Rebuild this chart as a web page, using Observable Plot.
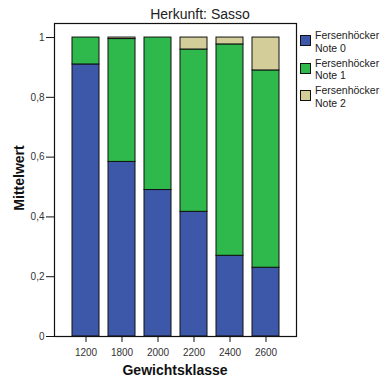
<!DOCTYPE html>
<html>
<head>
<meta charset="utf-8">
<script src="https://cdn.jsdelivr.net/npm/d3@7"></script>
<script src="https://cdn.jsdelivr.net/npm/@observablehq/plot@0.6"></script>
<style>
  html, body { margin: 0; padding: 0; background: #fff; }
  #wrap { position: relative; width: 385px; height: 378px; font-family: "Liberation Sans", Arial, sans-serif; color: #222; }
  #wrap svg { position: absolute; left: 0; top: 0; }
  .title { position: absolute; left: 0; width: 400px; top: 6px; text-align: center; font-size: 14px; }
  .ylab { position: absolute; left: 19px; top: 178px; transform: translate(-50%, -50%) rotate(-90deg); font-size: 14px; font-weight: bold; white-space: nowrap; color: #111; }
  .xlab { position: absolute; left: 175px; top: 362px; transform: translateX(-50%); font-size: 14px; font-weight: bold; white-space: nowrap; color: #111; }
  .legend { position: absolute; left: 300px; top: 29px; font-size: 10.5px; line-height: 12.5px; color: #222; }
  .item { position: relative; height: 27.5px; padding-left: 15px; }
  .sw { position: absolute; left: 0; top: 6px; width: 9px; height: 9px; border: 1px solid #111; }
</style>
</head>
<body>
<div id="wrap"></div>
<script>
const categories = ["1200", "1800", "2000", "2200", "2400", "2600"];
const seriesNames = ["Fersenhöcker Note 0", "Fersenhöcker Note 1", "Fersenhöcker Note 2"];
const note0 = [0.91, 0.584, 0.49, 0.417, 0.27, 0.23];
const note1 = [0.09, 0.411, 0.51, 0.543, 0.707, 0.66];
const note2 = [0.0, 0.005, 0.0, 0.04, 0.023, 0.11];
const colors = ["#3d57a9", "#2fb84b", "#d3ce99"];
const yTicks = [0, 0.2, 0.4, 0.6, 0.8, 1];

const seriesValues = [note0, note1, note2];
const data = [];
seriesValues.forEach((vals, s) => {
  categories.forEach((c, i) => data.push({cat: c, series: seriesNames[s], value: vals[i]}));
});

const fmt = d => d === 0 ? "0" : d === 1 ? "1" : String(d).replace(".", ",");

const chart = Plot.plot({
  width: 385,
  height: 378,
  marginLeft: 54,
  marginRight: 89,
  marginTop: 23,
  marginBottom: 42,
  style: {fontFamily: "Liberation Sans, Arial, sans-serif", fontSize: "10px", color: "#333", background: "transparent"},
  x: {domain: categories, paddingInner: 0.25, paddingOuter: 0.45, label: null},
  y: {domain: [0, 1.047], label: null},
  color: {domain: seriesNames, range: colors},
  marks: [
    Plot.barY(data, Plot.stackY({x: "cat", y: "value", fill: "series", order: null, stroke: "#111", strokeWidth: 1, inset: 0})),
    Plot.frame({stroke: "#111", strokeWidth: 1.2}),
    Plot.axisY({ticks: yTicks, tickFormat: fmt, tickSize: 8, tickPadding: 2, label: null, stroke: "#111"}),
    Plot.axisX({tickSize: 6, tickPadding: 6, label: null, stroke: "#111"})
  ]
});

const wrap = document.getElementById("wrap");
wrap.appendChild(chart);

const t = document.createElement("div"); t.className = "title"; t.textContent = "Herkunft: Sasso"; wrap.appendChild(t);
const yl = document.createElement("div"); yl.className = "ylab"; yl.textContent = "Mittelwert"; wrap.appendChild(yl);
const xl = document.createElement("div"); xl.className = "xlab"; xl.textContent = "Gewichtsklasse"; wrap.appendChild(xl);

const lg = document.createElement("div"); lg.className = "legend";
seriesNames.forEach((n, i) => {
  const it = document.createElement("div"); it.className = "item";
  const sw = document.createElement("div"); sw.className = "sw"; sw.style.background = colors[i];
  it.appendChild(sw);
  const parts = n.split(" ");
  const tx = document.createElement("div");
  tx.innerHTML = parts[0] + "<br>" + parts.slice(1).join(" ");
  it.appendChild(tx);
  lg.appendChild(it);
});
wrap.appendChild(lg);
</script>
</body>
</html>
